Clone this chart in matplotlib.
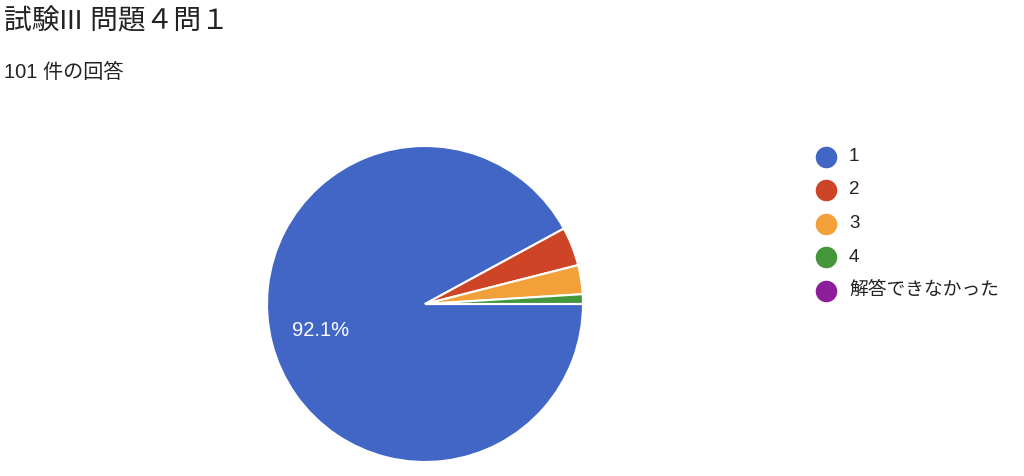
import matplotlib
matplotlib.use("Agg")
from matplotlib import pyplot as plt

plt.rcParams['font.family'] = ['Liberation Sans', 'Noto Sans CJK JP', 'DejaVu Sans']

TITLE = "試験III 問題４問１"
SUBTITLE = "101 件の回答"
categories = ["1", "2", "3", "4", "解答できなかった"]
counts = [93, 4, 3, 1, 0]
colors = ["#4166C6", "#CD4526", "#F1A03A", "#43963A", "#8D1E9B"]

W, H = 1024, 476
fig = plt.figure(figsize=(W / 100, H / 100), dpi=100)

fig.text(4 / W, 1 - 22 / H, TITLE, fontsize=20, color="#222222", va="center", ha="left")
fig.text(4 / W, 1 - 72 / H, SUBTITLE, fontsize=14.5, color="#222222", va="center", ha="left")

# pie: centre (425, 304), radius 158 px
cx, cy, r = 425, 304, 158
ax = fig.add_axes([(cx - r) / W, (H - cy - r) / H, 2 * r / W, 2 * r / H])
wedges, texts, autotexts = ax.pie(
    counts, colors=colors, startangle=0, counterclock=False, radius=1,
    autopct=lambda p: f"{p:.1f}%" if p > 5 else "", pctdistance=0.68,
    wedgeprops=dict(edgecolor="white", linewidth=1.5),
    textprops=dict(color="white", fontsize=14.5))
ax.set_xlim(-1.0, 1.0)
ax.set_ylim(-1.0, 1.0)
for w in wedges:
    w.set_clip_on(False)

# legend
lx, ly0, dy = 826, 156.5, 33.5
for i, (lab, col) in enumerate(zip(categories, colors)):
    y = 1 - (ly0 + i * dy) / H
    fig.lines.append(plt.Line2D([lx / W], [y], marker="o", markersize=14.5, color=col,
                                transform=fig.transFigure))
    fig.text((lx + 23) / W, y, lab, fontsize=13.5, color="#222222", va="center", ha="left")

fig.savefig("out.png", dpi=100)
